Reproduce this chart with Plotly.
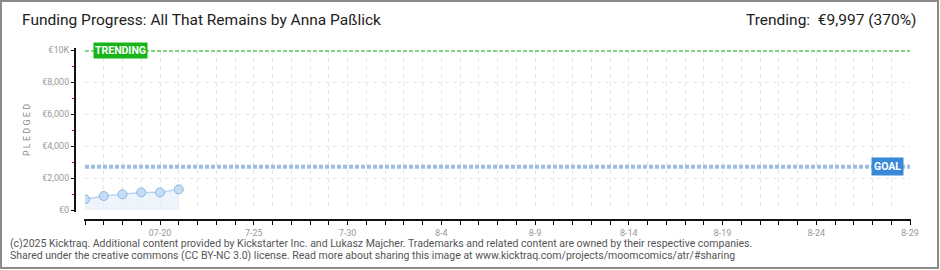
import plotly.graph_objects as go
import pandas as pd

# Daily pledged totals (EUR)
dates = ["2025-07-16", "2025-07-17", "2025-07-18", "2025-07-19", "2025-07-20", "2025-07-21"]
pledged = [670, 875, 980, 1100, 1100, 1290]

goal = 2700
trending = 9997
trending_pct = 370

x_start = "2025-07-16"
x_end = "2025-08-29"

y_tickvals = [0, 2000, 4000, 6000, 8000, 10000]
y_ticktext = ["€0", "€2,000", "€4,000", "€6,000", "€8,000", "€10K"]
y_minor = [1000, 3000, 5000, 7000, 9000]

x_label_dates = ["2025-07-20", "2025-07-25", "2025-07-30", "2025-08-04", "2025-08-09",
                 "2025-08-14", "2025-08-19", "2025-08-24", "2025-08-29"]
x_label_text = ["07-20", "7-25", "7-30", "8-4", "8-9", "8-14", "8-19", "8-24", "8-29"]

days = pd.date_range(x_start, x_end, freq="D")
label_map = dict(zip(pd.to_datetime(x_label_dates), x_label_text))
x_tickvals = list(days)
x_ticktext = [label_map.get(d, "") for d in days]

W, H = 940, 270
ML, MR, MT, MB = 75, 30, 50, 50
PW, PH = W - ML - MR, H - MT - MB

FONT = "Liberation Sans Narrow, Roboto, sans-serif"

fig = go.Figure()

# Goal and trending reference lines
fig.add_trace(go.Scatter(
    x=[x_start, x_end], y=[trending, trending], mode="lines",
    line=dict(color="#84d284", width=4, dash="4px,2px"), hoverinfo="skip", showlegend=False))
fig.add_trace(go.Scatter(
    x=[x_start, x_end], y=[goal, goal], mode="lines",
    line=dict(color="#9dbde2", width=4, dash="4px,2px"), hoverinfo="skip", showlegend=False))

# Pledged series
fig.add_trace(go.Scatter(
    x=dates, y=pledged, mode="lines+markers",
    line=dict(color="#b9d5f2", width=1.5),
    marker=dict(size=9, color="#c6ddf6", line=dict(color="#90b4de", width=1)),
    fill="tozeroy", fillcolor="rgba(225,236,250,0.6)",
    showlegend=False))

fig.update_layout(
    width=W, height=H,
    margin=dict(l=ML, r=MR, t=MT, b=MB),
    paper_bgcolor="white", plot_bgcolor="white",
    font=dict(family=FONT, color="#888888", size=9),
    xaxis=dict(
        type="date", range=[x_start, x_end],
        domain=[10 / PW, 1], anchor="free", position=0,
        tickmode="array", tickvals=x_tickvals, ticktext=x_ticktext,
        ticks="outside", ticklen=4, tickcolor="#000000", tickwidth=1,
        showline=False,
        showgrid=True, gridcolor="#e6e6e6", griddash="4px,4px", gridwidth=1,
        zeroline=False, tickfont=dict(size=9, color="#999999"),
    ),
    yaxis=dict(
        range=[0, 10000],
        domain=[10 / PH, 1], anchor="free", position=0,
        tickmode="array", tickvals=y_tickvals, ticktext=y_ticktext,
        ticks="outside", ticklen=4, tickcolor="#000000", tickwidth=1,
        minor=dict(tickmode="array", tickvals=y_minor, ticks="outside",
                   ticklen=3, tickcolor="#e00000", showgrid=False),
        showline=False,
        showgrid=True, gridcolor="#e6e6e6", griddash="4px,4px", gridwidth=1,
        zeroline=False, tickfont=dict(size=9, color="#999999"),
        title=dict(text="P L E D G E D", font=dict(size=9, color="#888888"), standoff=8),
    ),
)

def px_x(px):
    return (px - ML) / PW

def px_y(py):
    return (H - MB - py) / PH

annotations = [
    dict(text="Funding Progress: All That Remains by Anna Paßlick",
         xref="paper", yref="paper", x=px_x(20), y=px_y(20), xanchor="left", yanchor="middle",
         showarrow=False, font=dict(size=15.5, color="#222222", family=FONT)),
    dict(text=f"Trending:  €{trending:,} ({trending_pct}%)",
         xref="paper", yref="paper", x=px_x(918), y=px_y(20), xanchor="right", yanchor="middle",
         showarrow=False, font=dict(size=15.5, color="#222222", family=FONT)),
    dict(text="<b>TRENDING</b>", xref="x", yref="y", x=x_start, y=trending,
         xanchor="left", yanchor="middle", xshift=8, showarrow=False,
         bgcolor="#19b419", borderpad=1, font=dict(size=10.5, color="white", family=FONT)),
    dict(text="<b>GOAL</b>", xref="x", yref="y", x=x_end, y=goal,
         xanchor="right", yanchor="middle", xshift=-6, showarrow=False,
         bgcolor="#3a88d8", borderpad=2, font=dict(size=10.5, color="white", family=FONT)),
    dict(text="(c)2025 Kicktraq. Additional content provided by Kickstarter Inc. and Lukasz Majcher. "
              "Trademarks and related content are owned by their respective companies.",
         xref="paper", yref="paper", x=px_x(8), y=px_y(243), xanchor="left", yanchor="middle",
         showarrow=False, font=dict(size=10.5, color="#555555", family=FONT)),
    dict(text="Shared under the creative commons (CC BY-NC 3.0) license. Read more about sharing this "
              "image at www.kicktraq.com/projects/moomcomics/atr/#sharing",
         xref="paper", yref="paper", x=px_x(8), y=px_y(256), xanchor="left", yanchor="middle",
         showarrow=False, font=dict(size=10.5, color="#555555", family=FONT)),
]
fig.update_layout(annotations=annotations)

# Offset axis lines, drawn as thin filled rectangles
fig.add_shape(type="rect", xref="paper", yref="paper", layer="above",
              x0=px_x(74), x1=px_x(76), y0=px_y(212), y1=px_y(48),
              fillcolor="#111111", line=dict(width=0))
fig.add_shape(type="rect", xref="paper", yref="paper", layer="above",
              x0=px_x(84), x1=px_x(911), y0=px_y(221), y1=px_y(219),
              fillcolor="#111111", line=dict(width=0))

# Outer frame
fig.add_shape(type="rect", xref="paper", yref="paper",
              x0=px_x(1), x1=px_x(W - 2), y0=px_y(H - 2), y1=px_y(1),
              line=dict(color="#8a8a8a", width=2), fillcolor="rgba(0,0,0,0)", layer="above")

fig.write_html("out.html")
